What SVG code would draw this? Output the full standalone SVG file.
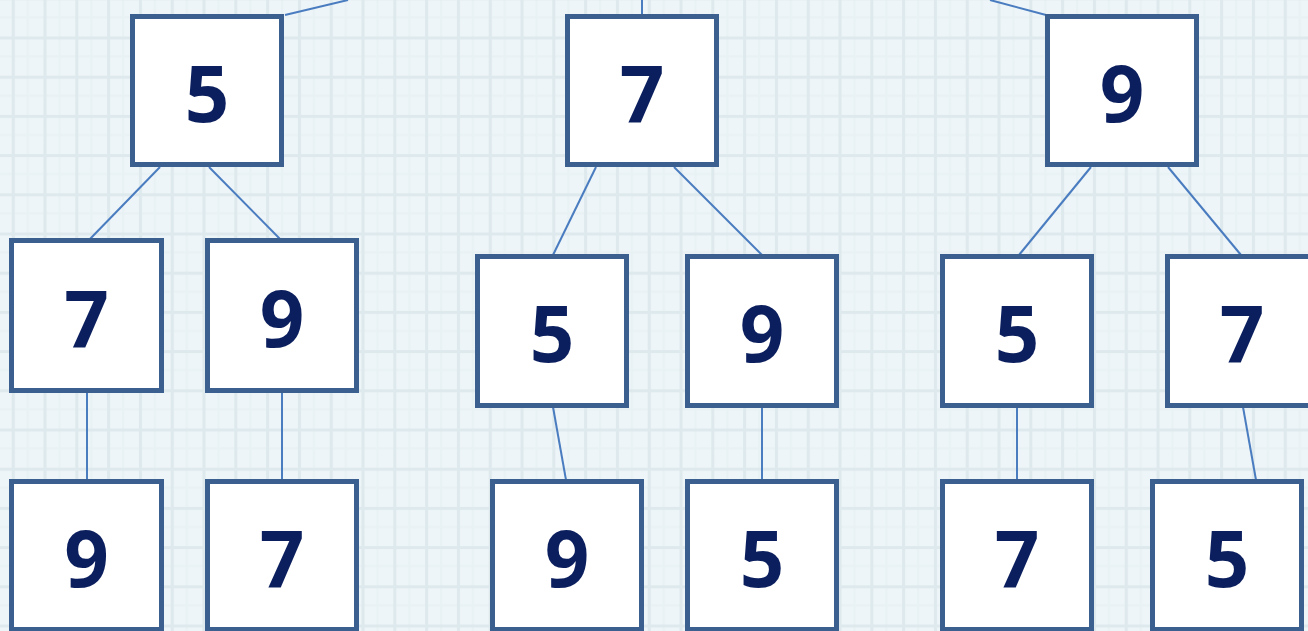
<svg xmlns="http://www.w3.org/2000/svg" width="1308" height="631" viewBox="0 0 1308 631">
<defs>
<style>
.box rect{fill:#ffffff;stroke:#3b5f8e;stroke-width:5}
.box text{font-family:"Open Sans","DejaVu Sans",sans-serif;font-weight:bold;font-size:78px;fill:#0b1f5e;text-anchor:middle}
#connectors line{stroke:#4a7cc0;stroke-width:2}
</style>
<pattern id="grid" x="11.7" y="36.5" width="31.8" height="39.2" patternUnits="userSpaceOnUse">
<rect width="31.8" height="39.2" fill="#eef5f8"/>
<rect x="15" y="0" width="2" height="39.2" fill="#e8f1f4"/>
<rect x="0" y="19" width="31.8" height="2" fill="#e8f1f4"/>
<rect x="0" y="0" width="3" height="39.2" fill="#dde9ed"/>
<rect x="0" y="0" width="31.8" height="3" fill="#dde9ed"/>
</pattern>
</defs>
<rect width="1308" height="631" fill="url(#grid)"/>
<g id="connectors">
<line x1="285" y1="15" x2="348" y2="0"/>
<line x1="642" y1="0" x2="642" y2="15"/>
<line x1="990" y1="0" x2="1046" y2="15"/>
<line x1="160" y1="167" x2="89" y2="240"/>
<line x1="209" y1="167" x2="281" y2="240"/>
<line x1="87" y1="393" x2="87" y2="480"/>
<line x1="282" y1="393" x2="282" y2="480"/>
<line x1="596" y1="167" x2="553" y2="255"/>
<line x1="674" y1="167" x2="762" y2="255"/>
<line x1="553" y1="407" x2="566" y2="480"/>
<line x1="762" y1="407" x2="762" y2="480"/>
<line x1="1091" y1="167" x2="1019" y2="255"/>
<line x1="1168" y1="167" x2="1241" y2="255"/>
<line x1="1017" y1="407" x2="1017" y2="480"/>
<line x1="1243" y1="407" x2="1256" y2="480"/>
</g>
<g id="n1" class="box"><rect x="132.5" y="16.5" width="149" height="148"/><text x="207" y="122">5</text></g>
<g id="n2" class="box"><rect x="567.5" y="16.5" width="149" height="148"/><text x="642" y="122">7</text></g>
<g id="n3" class="box"><rect x="1047.5" y="16.5" width="149" height="148"/><text x="1122" y="122">9</text></g>
<g id="n4" class="box"><rect x="11.5" y="240.5" width="150" height="150"/><text x="86.5" y="347">7</text></g>
<g id="n5" class="box"><rect x="207.5" y="240.5" width="149" height="150"/><text x="282" y="347">9</text></g>
<g id="n6" class="box"><rect x="477.5" y="256.5" width="149" height="149"/><text x="552" y="362">5</text></g>
<g id="n7" class="box"><rect x="687.5" y="256.5" width="149" height="149"/><text x="762" y="362">9</text></g>
<g id="n8" class="box"><rect x="942.5" y="256.5" width="149" height="149"/><text x="1017" y="362">5</text></g>
<g id="n9" class="box"><rect x="1167.5" y="256.5" width="149" height="149"/><text x="1242" y="362">7</text></g>
<g id="n10" class="box"><rect x="11.5" y="481.5" width="150" height="148"/><text x="86.5" y="587">9</text></g>
<g id="n11" class="box"><rect x="207.5" y="481.5" width="149" height="148"/><text x="282" y="587">7</text></g>
<g id="n12" class="box"><rect x="492.5" y="481.5" width="149" height="148"/><text x="567" y="587">9</text></g>
<g id="n13" class="box"><rect x="687.5" y="481.5" width="149" height="148"/><text x="762" y="587">5</text></g>
<g id="n14" class="box"><rect x="942.5" y="481.5" width="149" height="148"/><text x="1017" y="587">7</text></g>
<g id="n15" class="box"><rect x="1152.5" y="481.5" width="149" height="148"/><text x="1227" y="587">5</text></g>
</svg>
